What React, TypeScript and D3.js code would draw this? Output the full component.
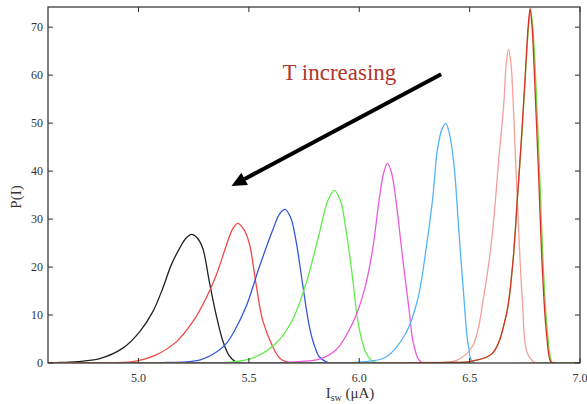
import React from 'react';
import * as d3 from 'd3';

// switching-current histograms, one per temperature
const blackPts = [[4.59, 0], [4.65, 0.1], [4.74, 0.35], [4.824, 0.9], [4.929, 3.1], [5.005, 6.5], [5.065, 10.7], [5.11, 15.6], [5.148, 20.4], [5.186, 23.9], [5.215, 26.0], [5.241, 26.8], [5.267, 26.0], [5.291, 23.9], [5.321, 16.9], [5.352, 10], [5.382, 4.6], [5.41, 1.6], [5.435, 0.4], [5.46, 0], [7.0, 0]];
const redPts = [[4.59, 0], [4.8, 0.05], [4.975, 0.3], [5.08, 1.7], [5.171, 4.4], [5.246, 8.6], [5.306, 13.5], [5.352, 18.3], [5.397, 24.4], [5.425, 27.8], [5.449, 29.1], [5.475, 28.0], [5.502, 24.9], [5.532, 16.6], [5.562, 9.0], [5.608, 3.4], [5.64, 1.0], [5.668, 0.3], [5.7, 0], [7.0, 0]];
const bluePts = [[4.59, 0], [4.9, 0.05], [5.126, 0.1], [5.276, 0.6], [5.36, 2.5], [5.4, 4.2], [5.43, 6.3], [5.487, 11.7], [5.548, 20.1], [5.608, 27.7], [5.638, 31.0], [5.664, 32.0], [5.69, 30.2], [5.713, 25.6], [5.743, 16.6], [5.774, 7.6], [5.8, 3.2], [5.819, 1.3], [5.864, 0], [7.0, 0]];
const greenPts = [[4.59, 0], [5.3, 0.05], [5.42, 0.2], [5.517, 1.0], [5.623, 4.1], [5.698, 9.0], [5.759, 16.6], [5.819, 27], [5.855, 33.5], [5.887, 36.0], [5.915, 33.8], [5.94, 27.7], [5.965, 19.5], [5.998, 7.6], [6.03, 2.2], [6.06, 0.4], [6.09, 0], [7.0, 0]];
const magentaPts = [[4.59, 0], [5.6, 0.05], [5.729, 0.3], [5.819, 0.8], [5.894, 2.7], [5.97, 8.3], [6.023, 15.2], [6.06, 23.5], [6.09, 34], [6.11, 39.5], [6.128, 41.6], [6.147, 39.5], [6.166, 34], [6.196, 22.1], [6.226, 11], [6.249, 3.4], [6.287, 0], [7.0, 0]];
const skyPts = [[4.59, 0], [5.9, 0.05], [6.0, 0.2], [6.12, 1.2], [6.211, 6.2], [6.264, 13.1], [6.302, 23.5], [6.332, 34], [6.354, 44.4], [6.375, 48.8], [6.392, 49.9], [6.41, 47.5], [6.43, 40.9], [6.452, 27], [6.475, 13.1], [6.495, 3.4], [6.52, 0], [7.0, 0]];
const pinkPts = [[4.59, 0], [6.3, 0.1], [6.438, 0.5], [6.513, 3.5], [6.566, 14.5], [6.603, 27], [6.633, 43], [6.656, 54.8], [6.665, 62], [6.676, 65.4], [6.688, 62], [6.697, 54.8], [6.716, 34], [6.739, 13.1], [6.762, 2.0], [6.8, 0], [7.0, 0]];
const limePts = [[4.59, 0], [6.4, 0.1], [6.513, 0.4], [6.603, 2.0], [6.664, 9.6], [6.694, 20], [6.716, 34], [6.737, 47.8], [6.755, 61.7], [6.767, 70], [6.776, 73.6], [6.786, 70], [6.797, 61.7], [6.816, 40.9], [6.834, 20], [6.853, 6.2], [6.872, 0.3], [6.885, 0], [7.0, 0]];
const darkRedPts = [[4.59, 0], [6.4, 0.1], [6.513, 0.4], [6.603, 2.0], [6.664, 9.6], [6.694, 20], [6.716, 34], [6.736, 47.8], [6.754, 61.7], [6.765, 70], [6.774, 73.9], [6.783, 70], [6.792, 61.7], [6.811, 40.9], [6.829, 20], [6.848, 6.2], [6.867, 0.3], [6.88, 0], [7.0, 0]];

const seriesList = [
  {pts: blackPts, color: '#222222'},
  {pts: redPts, color: '#f04848'},
  {pts: bluePts, color: '#3558d8'},
  {pts: greenPts, color: '#62ec4c'},
  {pts: magentaPts, color: '#ec5ad8'},
  {pts: skyPts, color: '#52b4f8'},
  {pts: pinkPts, color: '#f3a09c'},
  {pts: limePts, color: '#78dc3c'},
  {pts: darkRedPts, color: '#d8302a'},
];

const xTicks = [5.0, 5.5, 6.0, 6.5, 7.0];
const yTicks = [0, 10, 20, 30, 40, 50, 60, 70];

// annotation arrow, in data units
const arrowFrom = [6.371, 60.2];
const arrowTo = [5.421, 36.9];
const noteAt = [5.652, 59.0];
const noteText = 'T increasing';

const W = 587;
const H = 404;
const left = 48, right = 580, top = 7, bottom = 363;

export default function App() {
  const x = d3.scaleLinear().domain([4.59, 7.0]).range([left, right]);
  const y = d3.scaleLinear().domain([0, 74.2]).range([bottom, top]);

  const line = d3.line<number[]>()
    .x(d => x(d[0]))
    .y(d => Math.min(bottom, y(d[1])))
    .curve(d3.curveCatmullRom.alpha(0.5));

  const serif = '"Liberation Serif", "DejaVu Serif", serif';

  // arrow geometry
  const x1 = x(arrowFrom[0]), y1 = y(arrowFrom[1]);
  const x2 = x(arrowTo[0]), y2 = y(arrowTo[1]);
  const ang = Math.atan2(y2 - y1, x2 - x1);
  const headLen = 15, headW = 7;
  const bx = x2 - headLen * Math.cos(ang), by = y2 - headLen * Math.sin(ang);
  const head = [
    [x2, y2],
    [bx + headW * Math.sin(ang), by - headW * Math.cos(ang)],
    [bx - headW * Math.sin(ang), by + headW * Math.cos(ang)],
  ].map(p => p.join(',')).join(' ');

  const tickLen = 5;
  const axisColor = '#3a3a3a';

  return (
    <svg width={W} height={H} style={{position: 'absolute', left: 0, top: 0, background: '#fff'}}
      fontFamily={serif}>
      <defs>
        <clipPath id="plotClip">
          <rect x={left} y={top - 2} width={right - left} height={bottom - top + 2} />
        </clipPath>
      </defs>
      <rect x={0} y={0} width={W} height={H} fill="#fff" />

      <g clipPath="url(#plotClip)">
        {seriesList.map((s, i) => (
          <path key={i} d={line(s.pts) || ''} fill="none" stroke={s.color} strokeWidth={1.3} />
        ))}
      </g>

      {/* frame */}
      <rect x={left} y={top} width={right - left} height={bottom - top}
        fill="none" stroke={axisColor} strokeWidth={1.3} />

      {xTicks.map(t => (
        <g key={'x' + t}>
          <line x1={x(t)} x2={x(t)} y1={bottom} y2={bottom - tickLen} stroke={axisColor} strokeWidth={1.1} />
          <line x1={x(t)} x2={x(t)} y1={top} y2={top + tickLen} stroke={axisColor} strokeWidth={1.1} />
          <text x={x(t)} y={bottom + 19} textAnchor="middle" fontSize={12} fill="#333">
            {d3.format('.1f')(t)}
          </text>
        </g>
      ))}

      {yTicks.map(t => (
        <g key={'y' + t}>
          <line x1={left} x2={left + tickLen} y1={y(t)} y2={y(t)} stroke={axisColor} strokeWidth={1.1} />
          <line x1={right} x2={right - tickLen} y1={y(t)} y2={y(t)} stroke={axisColor} strokeWidth={1.1} />
          <text x={left - 5} y={y(t) + 4} textAnchor="end" fontSize={12} fill="#333">{t}</text>
        </g>
      ))}

      <text x={350} y={398} textAnchor="middle" fontSize={15} fill="#333">
        I<tspan fontSize={10} dy={3}>sw</tspan><tspan dy={-3}> (μA)</tspan>
      </text>
      <text transform={`translate(21,${(top + bottom) / 2 + 12}) rotate(-90)`} textAnchor="middle"
        fontSize={15} fill="#333">P(I)</text>

      {/* annotation */}
      <line x1={x1} y1={y1} x2={bx} y2={by} stroke="#000" strokeWidth={4} />
      <polygon points={head} fill="#000" />
      <text x={x(noteAt[0])} y={y(noteAt[1])} fontSize={23} fill="#b0352b">{noteText}</text>
    </svg>
  );
}
